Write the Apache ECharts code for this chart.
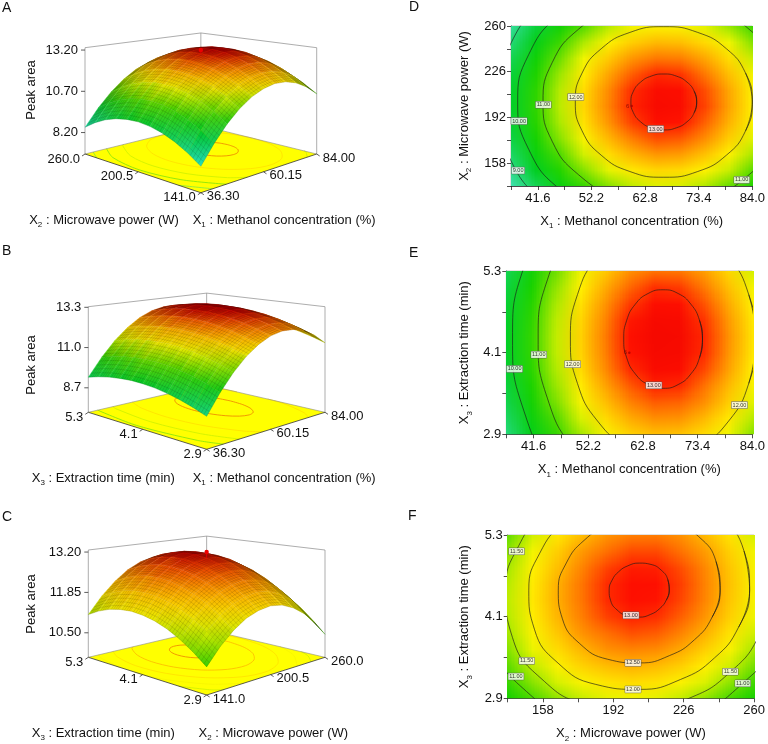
<!DOCTYPE html>
<html><head><meta charset="utf-8">
<script src="https://cdn.jsdelivr.net/npm/echarts@6/dist/echarts.min.js"></script>
<style>html,body{margin:0;padding:0;background:#fff}#c{width:768px;height:744px}</style>
</head><body><div id="c"></div>
<script>
// ================= DATA =================
const x1Levels = [36.30, 41.07, 45.84, 50.61, 55.38, 60.15, 64.92, 69.69, 74.46, 79.23, 84.00];
const x2Levels = [141.0, 152.9, 164.8, 176.7, 188.6, 200.5, 212.4, 224.3, 236.2, 248.1, 260.0];
const x3Levels = [2.90, 3.14, 3.38, 3.62, 3.86, 4.10, 4.34, 4.58, 4.82, 5.06, 5.30];

// peak area, rows = X2 (141 -> 260), columns = X1 (36.3 -> 84)
const peakX1X2 = [
[8.26, 9.26, 10.10, 10.76, 11.25, 11.56, 11.71, 11.68, 11.48, 11.10, 10.55],
[8.76, 9.76, 10.60, 11.26, 11.74, 12.06, 12.20, 12.17, 11.97, 11.60, 11.05],
[9.15, 10.16, 10.99, 11.65, 12.14, 12.45, 12.60, 12.57, 12.37, 11.99, 11.45],
[9.44, 10.44, 11.28, 11.94, 12.43, 12.74, 12.89, 12.86, 12.65, 12.28, 11.73],
[9.62, 10.63, 11.46, 12.12, 12.61, 12.93, 13.07, 13.04, 12.84, 12.46, 11.92],
[9.70, 10.71, 11.54, 12.20, 12.69, 13.00, 13.15, 13.12, 12.92, 12.54, 12.00],
[9.67, 10.68, 11.51, 12.17, 12.66, 12.98, 13.12, 13.09, 12.89, 12.52, 11.97],
[9.54, 10.55, 11.38, 12.04, 12.53, 12.85, 12.99, 12.96, 12.76, 12.39, 11.84],
[9.31, 10.31, 11.15, 11.81, 12.30, 12.61, 12.76, 12.73, 12.52, 12.15, 11.60],
[8.97, 9.97, 10.81, 11.47, 11.96, 12.27, 12.42, 12.39, 12.18, 11.81, 11.26],
[8.52, 9.53, 10.36, 11.02, 11.51, 11.83, 11.97, 11.94, 11.74, 11.37, 10.82]
];
// rows = X3 (2.9 -> 5.3), columns = X1
const peakX1X3 = [
[8.90, 9.91, 10.75, 11.42, 11.91, 12.24, 12.39, 12.36, 12.17, 11.80, 11.27],
[9.16, 10.17, 11.01, 11.68, 12.17, 12.49, 12.64, 12.62, 12.43, 12.06, 11.52],
[9.37, 10.38, 11.22, 11.89, 12.38, 12.70, 12.85, 12.83, 12.64, 12.27, 11.73],
[9.53, 10.54, 11.38, 12.05, 12.54, 12.86, 13.01, 12.99, 12.80, 12.43, 11.90],
[9.65, 10.66, 11.49, 12.16, 12.66, 12.98, 13.13, 13.11, 12.91, 12.55, 12.01],
[9.71, 10.72, 11.56, 12.22, 12.72, 13.04, 13.19, 13.17, 12.98, 12.61, 12.07],
[9.73, 10.74, 11.57, 12.24, 12.74, 13.06, 13.21, 13.19, 12.99, 12.63, 12.09],
[9.69, 10.70, 11.54, 12.21, 12.70, 13.03, 13.18, 13.15, 12.96, 12.59, 12.06],
[9.61, 10.62, 11.46, 12.13, 12.62, 12.94, 13.09, 13.07, 12.88, 12.51, 11.98],
[9.48, 10.49, 11.33, 12.00, 12.49, 12.82, 12.97, 12.94, 12.75, 12.38, 11.85],
[9.31, 10.32, 11.16, 11.82, 12.32, 12.64, 12.79, 12.77, 12.57, 12.21, 11.67]
];
// rows = X3 (2.9 -> 5.3), columns = X2 (141 -> 260)
const peakX2X3 = [
[10.48, 10.96, 11.33, 11.60, 11.75, 11.81, 11.75, 11.58, 11.31, 10.93, 10.45],
[10.80, 11.29, 11.67, 11.94, 12.10, 12.16, 12.11, 11.95, 11.69, 11.31, 10.83],
[11.07, 11.56, 11.95, 12.23, 12.40, 12.46, 12.41, 12.26, 12.00, 11.63, 11.16],
[11.28, 11.78, 12.17, 12.45, 12.63, 12.70, 12.66, 12.51, 12.26, 11.90, 11.43],
[11.43, 11.93, 12.33, 12.62, 12.80, 12.88, 12.85, 12.70, 12.46, 12.10, 11.64],
[11.52, 12.03, 12.44, 12.73, 12.92, 13.00, 12.97, 12.84, 12.60, 12.25, 11.79],
[11.56, 12.07, 12.48, 12.78, 12.98, 13.06, 13.04, 12.91, 12.68, 12.33, 11.88],
[11.53, 12.05, 12.47, 12.78, 12.98, 13.07, 13.05, 12.93, 12.70, 12.36, 11.92],
[11.45, 11.98, 12.40, 12.71, 12.92, 13.02, 13.01, 12.89, 12.67, 12.33, 11.89],
[11.31, 11.84, 12.27, 12.59, 12.80, 12.90, 12.90, 12.79, 12.57, 12.24, 11.81],
[11.11, 11.65, 12.08, 12.41, 12.62, 12.73, 12.74, 12.63, 12.42, 12.10, 11.67]
];

const contoursD = [
[9, [[99.63,203.5],[97.11,244.1],[89.92,278.44],[79.19,301.44],[66.5,309.5],[53.81,301.44],[43.08,278.44],[35.89,244.1],[33.37,203.5],[35.89,162.9],[43.08,128.56],[53.81,105.56],[66.5,97.5],[79.19,105.56],[89.92,128.56],[97.11,162.9]]],
[10, [[95.38,203.5],[93.18,238.9],[86.92,268.85],[77.56,288.9],[66.5,295.92],[55.44,288.9],[46.08,268.85],[39.82,238.9],[37.62,203.5],[39.82,168.1],[46.08,138.15],[55.44,118.1],[66.5,111.08],[77.56,118.1],[86.92,138.15],[93.18,168.1]]],
[11, [[90.37,203.5],[88.56,232.76],[83.38,257.52],[75.64,274.1],[66.5,279.91],[57.36,274.1],[49.62,257.52],[44.44,232.76],[42.63,203.5],[44.44,174.24],[49.62,149.48],[57.36,132.9],[66.5,127.09],[75.64,132.9],[83.38,149.48],[88.56,174.24]]],
[12, [[83.99,203.5],[82.66,224.94],[78.87,243.09],[73.2,255.23],[66.5,259.49],[59.8,255.23],[54.13,243.09],[50.34,224.94],[49.01,203.5],[50.34,182.06],[54.13,163.91],[59.8,151.77],[66.5,147.51],[73.2,151.77],[78.87,163.91],[82.66,182.06]]],
[13, [[73.0,203.5],[72.51,211.47],[71.1,218.21],[68.99,222.72],[66.5,224.3],[64.01,222.72],[61.9,218.21],[60.49,211.47],[60.0,203.5],[60.49,195.53],[61.9,188.79],[64.01,184.28],[66.5,182.7],[68.99,184.28],[71.1,188.79],[72.51,195.53]]]
];
const contoursE = [
[10, [[95.89,4.30],[93.67,5.36],[87.34,6.258],[77.87,6.858],[66.7,7.069],[55.53,6.858],[46.06,6.258],[39.73,5.36],[37.51,4.30],[39.73,3.24],[46.06,2.342],[55.53,1.742],[66.7,1.531],[77.87,1.742],[87.34,2.342],[93.67,3.24]]],
[11, [[90.93,4.30],[89.09,5.18],[83.83,5.925],[75.98,6.424],[66.7,6.599],[57.42,6.424],[49.57,5.925],[44.31,5.18],[42.47,4.30],[44.31,3.42],[49.57,2.675],[57.42,2.176],[66.7,2.001],[75.98,2.176],[83.83,2.675],[89.09,3.42]]],
[12, [[84.67,4.30],[83.30,4.953],[79.41,5.505],[73.58,5.874],[66.7,6.004],[59.82,5.874],[53.99,5.505],[50.10,4.953],[48.73,4.30],[50.10,3.647],[53.99,3.095],[59.82,2.726],[66.7,2.596],[73.58,2.726],[79.41,3.095],[83.30,3.647]]],
[13, [[74.33,4.30],[73.75,4.577],[72.09,4.812],[69.62,4.969],[66.7,5.024],[63.78,4.969],[61.31,4.812],[59.65,4.577],[59.07,4.30],[59.65,4.023],[61.31,3.788],[63.78,3.631],[66.7,3.576],[69.62,3.631],[72.09,3.788],[73.75,4.023]]]
];
const contoursF = [
[11, [[278.49,4.49],[274.75,5.287],[258.88,5.979],[233.59,6.413],[204.5,6.516],[176.9,6.314],[154.03,5.872],[137.87,5.246],[130.51,4.49],[134.25,3.693],[150.12,2.999],[175.41,2.567],[204.5,2.464],[232.1,2.666],[254.03,3.108],[271.13,3.735]]],
[11.5, [[268.98,4.49],[265.72,5.185],[251.89,5.788],[229.85,6.166],[204.5,6.255],[180.45,6.08],[160.52,5.694],[146.44,5.149],[140.02,4.49],[143.28,3.795],[157.11,3.192],[179.15,2.814],[204.5,2.725],[228.55,2.9],[248.48,3.286],[262.56,3.832]]],
[12, [[257.81,4.49],[255.11,5.064],[243.68,5.563],[225.46,5.876],[204.5,5.95],[184.62,5.804],[168.14,5.486],[156.5,5.034],[151.19,4.49],[153.89,3.916],[165.32,3.417],[183.54,3.104],[204.5,3.031],[224.38,3.176],[240.86,3.494],[252.5,3.946]]],
[12.5, [[243.57,4.49],[241.59,4.911],[233.22,5.276],[219.86,5.505],[204.5,5.56],[189.93,5.453],[177.85,5.22],[169.32,4.889],[165.43,4.49],[167.41,4.069],[175.78,3.704],[189.14,3.475],[204.5,3.42],[219.07,3.527],[231.15,3.76],[239.68,4.091]]],
[13, [[219.01,4.49],[218.28,4.646],[215.16,4.782],[210.21,4.867],[204.5,4.887],[199.09,4.848],[194.6,4.761],[191.43,4.638],[189.99,4.49],[190.72,4.334],[193.84,4.198],[198.79,4.113],[204.5,4.093],[209.91,4.132],[214.4,4.219],[217.57,4.342]]]
];
// contour value labels [x, y, text]
const labelsD = [[37.7,152.5,'9.00'],[37.9,189.3,'10.00'],[42.7,201.4,'11.00'],[49.1,207.2,'12.00'],[64.9,183.4,'13.00'],[81.9,145.5,'11.00']];
const labelsE = [[37.9,3.86,'10.00'],[42.6,4.07,'11.00'],[49.15,3.93,'12.00'],[64.9,3.62,'13.00'],[81.5,3.33,'12.00']];
const labelsF = [[145.3,5.06,'11.50'],[150.2,3.45,'11.50'],[145.0,3.22,'11.00'],[201.5,3.42,'12.50'],[201.5,3.03,'12.00'],[200.5,4.12,'13.00'],[248.5,3.29,'11.50'],[254.5,3.12,'11.00']];
// design centre point (replicates) and its measured peak area
const centreD = [60.15, 200.5];
const centreE = [60.15, 4.1];
const centreReplicates = '6';
const designPointA = [60.15, 200.5, 13.20];
const designPointC = [200.5, 4.1, 13.20];

// tick marks and tick labels
const x1TickMarks = [36.3, 41.6, 46.9, 52.2, 57.5, 62.8, 68.1, 73.4, 78.7, 84.0];
const x1Labels = [41.6, 52.2, 62.8, 73.4, 84.0];
const x2TickMarks = [141, 158, 175, 192, 209, 226, 243, 260];
const x2Labels = [158, 192, 226, 260];
const x3TickMarks = [2.9, 3.5, 4.1, 4.7, 5.3];
const x3Labels = [2.9, 4.1, 5.3];
const zTicksA = [8.20, 10.70, 13.20];
const zTicksB = [8.7, 11.0, 13.3];
const zTicksC = [10.50, 11.85, 13.20];
const floorTicksX1 = [36.30, 60.15, 84.00];
const floorTicksX2 = [141.0, 200.5, 260.0];
const floorTicksX3 = [2.9, 4.1, 5.3];

// ================= STYLE / RENDERING =================
const FONT = 'Liberation Sans, Arial, sans-serif';
const TXT = '#111';
const palette2D = [[8.2,[64,224,176]],[9.0,[32,216,112]],[9.8,[0,206,30]],[10.5,[24,210,0]],[11.0,[80,218,0]],[11.5,[180,235,0]],[11.8,[240,245,0]],[12.0,[255,240,0]],[12.4,[255,190,0]],[12.8,[255,112,0]],[13.05,[255,16,0]],[13.4,[235,0,0]]];
const palette3D = [[8.2,[40,225,200]],[9.0,[20,215,120]],[9.8,[0,200,30]],[10.5,[60,210,0]],[11.0,[160,228,0]],[11.4,[235,242,0]],[11.8,[255,220,0]],[12.3,[255,160,0]],[12.8,[245,70,0]],[13.1,[210,0,0]],[13.4,[190,0,0]]];
function colorFrom(pal, v){
  if (v <= pal[0][0]) return pal[0][1];
  for (let i = 1; i < pal.length; i++){
    if (v <= pal[i][0]){
      const a = pal[i-1], b = pal[i], t = (v - a[0])/(b[0]-a[0]);
      return [0,1,2].map(k => a[1][k] + (b[1][k]-a[1][k])*t);
    }
  }
  return pal[pal.length-1][1];
}
const colorAt = v => colorFrom(palette2D, v);
const color3D = v => colorFrom(palette3D, v);
function rgb(c, f){ f = f || 1; return 'rgb(' + Math.round(c[0]*f) + ',' + Math.round(c[1]*f) + ',' + Math.round(c[2]*f) + ')'; }
function mix(c, d, t){ return [0,1,2].map(k => c[k]*(1-t) + d[k]*t); }

function makeCanvas(values){
  const n = values.length, m = values[0].length;
  const cv = document.createElement('canvas'); cv.width = m; cv.height = n;
  const ctx = cv.getContext('2d'); const img = ctx.createImageData(m, n);
  for (let r = 0; r < n; r++) for (let c = 0; c < m; c++){
    const col = colorAt(values[r][c]); const i = ((n-1-r)*m + c)*4;
    img.data[i] = col[0]; img.data[i+1] = col[1]; img.data[i+2] = col[2]; img.data[i+3] = 255;
  }
  ctx.putImageData(img, 0, 0); return cv;
}

const richAxis = {
  a: {fontSize: 13, fontFamily: FONT, color: TXT, fill: TXT, lineHeight: 18, verticalAlign: 'middle'},
  s: {fontSize: 8, fontFamily: FONT, color: TXT, fill: TXT, lineHeight: 9, verticalAlign: 'bottom'}
};
const nmX1 = '{a|X}{s|1}{a| : Methanol concentration (%)}';
const nmX2 = '{a|X}{s|2}{a| : Microwave power (W)}';
const nmX3 = '{a|X}{s|3}{a| : Extraction time (min)}';

function valAxis(gi, min, max, ticks, labels, fmt, name, gap, isY){
  return {
    gridIndex: gi, type: 'value', min: min, max: max,
    axisLine: {show: true, onZero: false, lineStyle: {color: '#222', width: 0.8}},
    axisTick: {show: true, length: 4, customValues: ticks, lineStyle: {color: '#222', width: 0.8}},
    axisLabel: {show: true, customValues: labels, formatter: fmt, fontSize: 13, fontFamily: FONT, color: TXT, margin: isY ? 5 : 6},
    splitLine: {show: false},
    name: name, nameLocation: 'middle', nameGap: gap,
    nameTextStyle: {fontSize: 13, fontFamily: FONT, color: TXT, rich: richAxis}
  };
}
const f1 = v => v.toFixed(1);
const f0 = v => String(Math.round(v));

function heatSeries(gi, values, xs, ys){
  const cv = makeCanvas(values);
  const dx = (xs[xs.length-1]-xs[0])/(xs.length-1), dy = (ys[ys.length-1]-ys[0])/(ys.length-1);
  return {
    type: 'custom', coordinateSystem: 'cartesian2d', xAxisIndex: gi, yAxisIndex: gi, clip: true, silent: true, z: 1,
    data: [[xs[0], ys[0]]],
    renderItem: function(params, api){
      const a = api.coord([xs[0]-dx/2, ys[ys.length-1]+dy/2]);
      const b = api.coord([xs[xs.length-1]+dx/2, ys[0]-dy/2]);
      return {type: 'image', style: {image: cv, x: a[0], y: a[1], width: b[0]-a[0], height: b[1]-a[1]}};
    }
  };
}
function contourSeries(gi, contours){
  return contours.map(c => {
    const pts = c[1];
    const data = [pts[pts.length-1]].concat(pts, [pts[0], pts[1]]);
    return {type: 'line', xAxisIndex: gi, yAxisIndex: gi, data: data, smooth: 0.5, symbol: 'none', silent: true, z: 3,
      lineStyle: {color: '#1a1a1a', width: 0.65}, animation: false};
  });
}
function labelSeries(gi, labels){
  return {type: 'scatter', xAxisIndex: gi, yAxisIndex: gi, symbol: 'rect', symbolSize: 1, silent: true, z: 6,
    itemStyle: {color: 'rgba(0,0,0,0)'},
    data: labels.map(l => ({value: [l[0], l[1]], name: l[2]})),
    label: {show: true, position: 'inside', formatter: p => p.name, fontSize: 5.5, fontFamily: FONT, color: '#000',
      backgroundColor: '#fff', borderColor: '#555', borderWidth: 0.5, padding: [0.5, 1, 0, 1]}};
}
function centreSeries(gi, pt){
  return {type: 'scatter', xAxisIndex: gi, yAxisIndex: gi, symbol: 'circle', symbolSize: 2.5, silent: true, z: 5,
    itemStyle: {color: '#a00'}, data: [pt],
    label: {show: true, position: 'left', distance: 1, formatter: centreReplicates, fontSize: 6, fontFamily: FONT, color: '#700'}};
}

// ---------- pseudo 3-D response surfaces ----------
function proj(v, p, q, z){
  const a = p - 0.5, b = q - 0.5, g = 1/(1 + v.beta*(a+b));
  return [v.C[0] + (a-b)*v.P[0]*g, v.C[1] + (a+b)*v.P[1]*g - v.k*(z - v.z0)*g];
}
function clipSeg(x0, y0, x1, y1){
  let t0 = 0, t1 = 1; const dx = x1-x0, dy = y1-y0;
  const pp = [-dx, dx, -dy, dy], qq = [x0, 1-x0, y0, 1-y0];
  for (let i = 0; i < 4; i++){
    if (pp[i] === 0){ if (qq[i] < 0) return null; }
    else { const r = qq[i]/pp[i];
      if (pp[i] < 0){ if (r > t1) return null; if (r > t0) t0 = r; }
      else { if (r < t0) return null; if (r < t1) t1 = r; } }
  }
  return [x0+t0*dx, y0+t0*dy, x0+t1*dx, y0+t1*dy, t0 > 0, t1 < 1];
}
const HATCH = 5; // wireframe lines drawn per face (texture only)
function make3D(cfg){
  const v = cfg.view;
  const pL = cfg.pLevels, qL = cfg.qLevels;
  const pMin = pL[0], pMax = pL[pL.length-1], qMin = qL[0], qMax = qL[qL.length-1];
  const pn = x => (x-pMin)/(pMax-pMin), qn = y => (y-qMin)/(qMax-qMin);
  return {
    type: 'custom', coordinateSystem: 'cartesian2d', xAxisIndex: 3, yAxisIndex: 3, silent: true, clip: false, z: 2,
    data: [[0, 0]],
    renderItem: function(params, api){
      const P = (p, q, z) => api.coord(proj(v, p, q, z));
      const z0 = v.z0, zTop = v.z0 + v.hTop/v.k;
      const ch = [];
      const line = (a, b, stroke, w) => ch.push({type: 'line', shape: {x1: a[0], y1: a[1], x2: b[0], y2: b[1]}, style: {stroke: stroke, lineWidth: w}});
      const text = (x, y, s, align) => ch.push({type: 'text', style: {text: s, x: x, y: y, fill: TXT, font: '13px ' + FONT,
        align: align, verticalAlign: 'middle', textAlign: align, textVerticalAlign: 'middle'}});
      // floor
      ch.push({type: 'polygon', shape: {points: [P(0,0,z0), P(1,0,z0), P(1,1,z0), P(0,1,z0)]}, style: {fill: '#ffff00'}});
      // floor contours
      cfg.contours.forEach(c => {
        const pts = c[1].concat([c[1][0]]).map(d => [pn(d[0]), qn(d[1])]);
        const runs = []; let cur = null;
        for (let i = 0; i < pts.length-1; i++){
          const s = clipSeg(pts[i][0], pts[i][1], pts[i+1][0], pts[i+1][1]);
          if (!s){ cur = null; continue; }
          if (!cur || s[4]){ cur = [[s[0], s[1]]]; runs.push(cur); }
          cur.push([s[2], s[3]]);
          if (s[5]) cur = null;
        }
        runs.forEach(r => { if (r.length > 1) ch.push({type: 'polyline', shape: {points: r.map(d => P(d[0], d[1], z0)), smooth: 0.3},
          style: {stroke: rgb(mix(color3D(c[0]), [255,255,0], 0.45)), lineWidth: 0.8, fill: null}}); });
      });
      // box
      const bx = '#8a8a8a';
      line(P(0,1,z0), P(0,1,zTop), bx, 0.7); line(P(1,0,z0), P(1,0,zTop), bx, 0.7); line(P(1,1,z0), P(1,1,zTop), bx, 0.7);
      line(P(0,1,zTop), P(1,1,zTop), bx, 0.7); line(P(1,1,zTop), P(1,0,zTop), bx, 0.7);
      line(P(0,1,z0), P(1,1,z0), bx, 0.6); line(P(1,1,z0), P(1,0,z0), bx, 0.6);
      // surface (painter's order: far to near)
      const vals = cfg.values, quads = [];
      for (let j = 0; j < qL.length-1; j++) for (let i = 0; i < pL.length-1; i++)
        quads.push({i: i, j: j, d: pn(pL[i]) + pn(pL[i+1]) + qn(qL[j]) + qn(qL[j+1])});
      quads.sort((a, b) => b.d - a.d);
      quads.forEach(o => {
        const i = o.i, j = o.j;
        const pa = pn(pL[i]), pb = pn(pL[i+1]), qa = qn(qL[j]), qb = qn(qL[j+1]);
        const zs = [vals[j][i], vals[j][i+1], vals[j+1][i+1], vals[j+1][i]];
        const pts = [P(pa,qa,zs[0]), P(pb,qa,zs[1]), P(pb,qb,zs[2]), P(pa,qb,zs[3])];
        let area = 0; for (let k = 0; k < 4; k++){ const a = pts[k], b = pts[(k+1)%4]; area += a[0]*b[1] - b[0]*a[1]; }
        area = Math.abs(area)/2;
        const shade = 0.84 + 0.14*Math.min(1, Math.sqrt(area)/16);
        let lo = 0, hi = 0;
        for (let k = 1; k < 4; k++){ if (zs[k] < zs[lo]) lo = k; if (zs[k] > zs[hi]) hi = k; }
        let fill;
        const A = pts[lo], B = pts[hi];
        if (lo !== hi && Math.hypot(B[0]-A[0], B[1]-A[1]) > 0.5){
          fill = {type: 'linear', x: A[0], y: A[1], x2: B[0], y2: B[1], global: true,
            colorStops: [{offset: 0, color: rgb(color3D(zs[lo]), shade)}, {offset: 1, color: rgb(color3D(zs[hi]), shade)}]};
        } else fill = rgb(color3D((zs[0]+zs[1]+zs[2]+zs[3])/4), shade);
        ch.push({type: 'polygon', shape: {points: pts}, style: {fill: fill, stroke: fill, lineWidth: 0.3}});
        // wireframe texture on the face
        const lerp = (a, b, t) => [a[0]+(b[0]-a[0])*t, a[1]+(b[1]-a[1])*t];
        let d = '';
        for (let k = 0; k < HATCH; k++){
          const t = k/HATCH;
          const u0 = lerp(pts[0], pts[1], t), u1 = lerp(pts[3], pts[2], t);
          const w0 = lerp(pts[0], pts[3], t), w1 = lerp(pts[1], pts[2], t);
          d += 'M' + u0[0].toFixed(2) + ' ' + u0[1].toFixed(2) + 'L' + u1[0].toFixed(2) + ' ' + u1[1].toFixed(2);
          d += 'M' + w0[0].toFixed(2) + ' ' + w0[1].toFixed(2) + 'L' + w1[0].toFixed(2) + ' ' + w1[1].toFixed(2);
        }
        ch.push({type: 'path', shape: {pathData: d}, style: {stroke: 'rgba(0,0,0,0.25)', lineWidth: 0.45, fill: null}});
      });
      // front floor edges
      line(P(0,0,z0), P(1,0,z0), '#333', 0.8); line(P(0,0,z0), P(0,1,z0), '#333', 0.8);
      // z axis
      cfg.zTicks.forEach(z => { const a = P(0,1,z); line([a[0]-4, a[1]], a, '#333', 0.8); text(a[0]-7, a[1], z.toFixed(cfg.zDec), 'right'); });
      // q edge (left-front)
      cfg.qTicks.forEach(t => { const a = P(0, qn(t), z0); line(a, [a[0]-3, a[1]+2], '#333', 0.8); text(a[0]-5, a[1]+5, t.toFixed(cfg.qDec), 'right'); });
      // p edge (front-right)
      cfg.pTicks.forEach(t => { const a = P(pn(t), 0, z0); line(a, [a[0]+3, a[1]+2], '#333', 0.8); text(a[0]+6, a[1]+4, t.toFixed(cfg.pDec), 'left'); });
      // design centre point
      if (cfg.designPoint){
        const dp = cfg.designPoint; const a = P(pn(dp[0]), qn(dp[1]), dp[2]);
        const b = P(pn(dp[0]), qn(dp[1]), vals[5][5]);
        line(a, b, '#d00', 1);
        ch.push({type: 'circle', shape: {cx: a[0], cy: a[1], r: 2.2}, style: {fill: '#e00'}});
      }
      return {type: 'group', children: ch};
    }
  };
}

const viewA = {C: [200.85, 154.0], P: [115.85, -32.9], beta: 0.15, k: 16.5, z0: 6.9, hTop: 106.3};
const viewB = {C: [206.65, 412.3], P: [118.35, -31.46], beta: 0.15, k: 17.5, z0: 7.3, hTop: 105.6};
const viewC = {C: [206.65, 657.3], P: [118.35, -32.06], beta: 0.15, k: 29.9, z0: 9.68, hTop: 107.3};

function gtext(x, y, text, o){
  o = o || {};
  return {type: 'text', x: x, y: y, rotation: o.rot || 0, silent: true, z: 10,
    style: {text: text, x: 0, y: 0, fill: TXT, font: (o.size || 13) + 'px ' + FONT,
      align: o.align || 'center', verticalAlign: 'middle', textAlign: o.align || 'center', textVerticalAlign: 'middle', rich: o.rich}};
}

const chart = echarts.init(document.getElementById('c'), null, {renderer: 'canvas', width: 768, height: 744});
const option = {
  animation: false,
  backgroundColor: '#fff',
  grid: [
    {left: 511, top: 26, width: 244, height: 160, show: true, borderColor: '#9a9a9a', borderWidth: 0.6, backgroundColor: 'transparent'},
    {left: 506.3, top: 271, width: 247.7, height: 163.3, show: true, borderColor: '#9a9a9a', borderWidth: 0.6, backgroundColor: 'transparent'},
    {left: 507.7, top: 535, width: 246.6, height: 163.3, show: true, borderColor: '#9a9a9a', borderWidth: 0.6, backgroundColor: 'transparent'},
    {left: 0, top: 0, width: 768, height: 744, show: false}
  ],
  xAxis: [
    valAxis(0, 36.3, 84, x1TickMarks, x1Labels, f1, nmX1, 26, false),
    valAxis(1, 36.3, 84, x1TickMarks, x1Labels, f1, nmX1, 26, false),
    valAxis(2, 141, 260, x2TickMarks, x2Labels, f0, nmX2, 26, false),
    {gridIndex: 3, type: 'value', min: 0, max: 768, show: false}
  ],
  yAxis: [
    valAxis(0, 141, 260, x2TickMarks, x2Labels, f0, nmX2, 38, true),
    valAxis(1, 2.9, 5.3, x3TickMarks, x3Labels, f1, nmX3, 33, true),
    valAxis(2, 2.9, 5.3, x3TickMarks, x3Labels, f1, nmX3, 34, true),
    {gridIndex: 3, type: 'value', min: 0, max: 744, inverse: true, show: false}
  ],
  series: [].concat(
    [heatSeries(0, peakX1X2, x1Levels, x2Levels)], contourSeries(0, contoursD), [labelSeries(0, labelsD), centreSeries(0, centreD)],
    [heatSeries(1, peakX1X3, x1Levels, x3Levels)], contourSeries(1, contoursE), [labelSeries(1, labelsE), centreSeries(1, centreE)],
    [heatSeries(2, peakX2X3, x2Levels, x3Levels)], contourSeries(2, contoursF), [labelSeries(2, labelsF)],
    [
      make3D({view: viewA, values: peakX1X2, pLevels: x1Levels, qLevels: x2Levels, contours: contoursD,
        zTicks: zTicksA, zDec: 2, pTicks: floorTicksX1, pDec: 2, qTicks: floorTicksX2, qDec: 1, designPoint: designPointA}),
      make3D({view: viewB, values: peakX1X3, pLevels: x1Levels, qLevels: x3Levels, contours: contoursE,
        zTicks: zTicksB, zDec: 1, pTicks: floorTicksX1, pDec: 2, qTicks: floorTicksX3, qDec: 1}),
      make3D({view: viewC, values: peakX2X3, pLevels: x2Levels, qLevels: x3Levels, contours: contoursF,
        zTicks: zTicksC, zDec: 2, pTicks: floorTicksX2, pDec: 1, qTicks: floorTicksX3, qDec: 1, designPoint: designPointC})
    ]
  ),
  graphic: [
    gtext(2, 8, 'A', {size: 14, align: 'left'}),
    gtext(2, 251, 'B', {size: 14, align: 'left'}),
    gtext(2, 517, 'C', {size: 14, align: 'left'}),
    gtext(409, 7, 'D', {size: 14, align: 'left'}),
    gtext(409, 253, 'E', {size: 14, align: 'left'}),
    gtext(408, 516, 'F', {size: 14, align: 'left'}),
    gtext(31.7, 90, 'Peak area', {rot: Math.PI/2}),
    gtext(31.7, 365, 'Peak area', {rot: Math.PI/2}),
    gtext(31.7, 604, 'Peak area', {rot: Math.PI/2}),
    gtext(104, 220, nmX2, {rich: richAxis}),
    gtext(192.7, 220, nmX1, {rich: richAxis, align: 'left'}),
    gtext(103.3, 478, nmX3, {rich: richAxis}),
    gtext(192.7, 478, nmX1, {rich: richAxis, align: 'left'}),
    gtext(103.3, 733, nmX3, {rich: richAxis}),
    gtext(273.3, 733, nmX2, {rich: richAxis})
  ]
};
chart.setOption(option);
</script>
</body></html>
